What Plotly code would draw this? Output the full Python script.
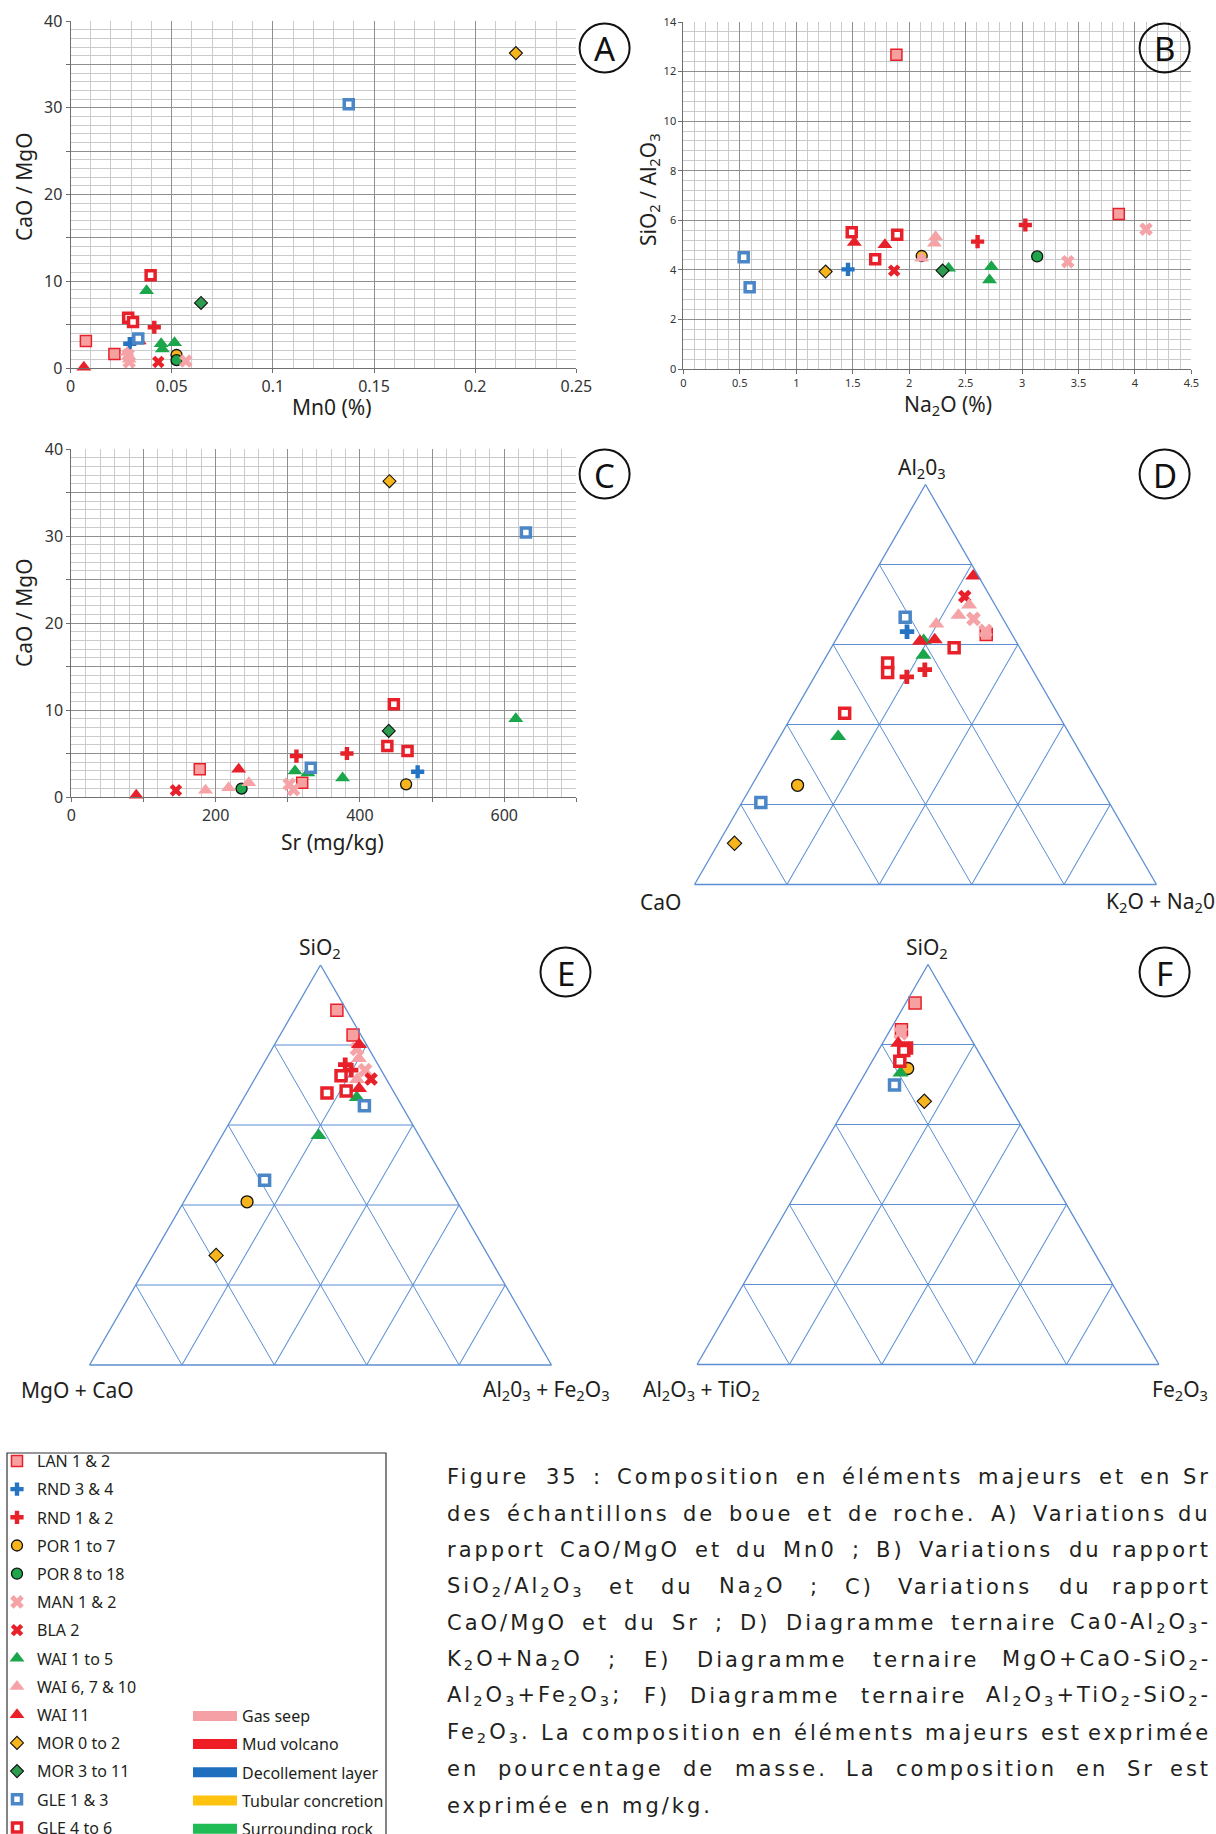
import re
import plotly.graph_objects as go

FIG_W, FIG_H = 1216, 1834

# ---------------------------------------------------------------- groups
GROUPS = ["LAN 1 & 2", "RND 3 & 4", "RND 1 & 2", "POR 1 to 7", "POR 8 to 18",
          "MAN 1 & 2", "BLA 2", "WAI 1 to 5", "WAI 6, 7 & 10", "WAI 11",
          "MOR 0 to 2", "MOR 3 to 11", "GLE 1 & 3", "GLE 4 to 6"]

# ---------------------------------------------------------------- panel A : MnO (%) vs CaO/MgO
A_MnO = {
    "LAN 1 & 2": [0.0076, 0.0217], "RND 3 & 4": [0.0293], "RND 1 & 2": [0.0414],
    "POR 1 to 7": [0.0524], "POR 8 to 18": [0.0524], "MAN 1 & 2": [0.0285, 0.029, 0.057],
    "BLA 2": [0.0434], "WAI 1 to 5": [0.0376, 0.0448, 0.0454, 0.0514],
    "WAI 6, 7 & 10": [0.028, 0.029], "WAI 11": [0.0066, 0.034], "MOR 0 to 2": [0.2201],
    "MOR 3 to 11": [0.0645], "GLE 1 & 3": [0.1375, 0.0335], "GLE 4 to 6": [0.0396, 0.0285, 0.0309],
}
A_CaO_MgO = {
    "LAN 1 & 2": [3.1, 1.6], "RND 3 & 4": [2.8], "RND 1 & 2": [4.7],
    "POR 1 to 7": [1.5], "POR 8 to 18": [0.9], "MAN 1 & 2": [1.5, 0.7, 0.8],
    "BLA 2": [0.7], "WAI 1 to 5": [8.9, 2.8, 2.2, 2.9],
    "WAI 6, 7 & 10": [1.8, 1.0], "WAI 11": [0.1, 3.1], "MOR 0 to 2": [36.3],
    "MOR 3 to 11": [7.5], "GLE 1 & 3": [30.4, 3.4], "GLE 4 to 6": [10.7, 5.8, 5.3],
}

# ---------------------------------------------------------------- panel B : Na2O (%) vs SiO2/Al2O3
B_Na2O = {
    "LAN 1 & 2": [1.887, 3.857], "RND 3 & 4": [1.458], "RND 1 & 2": [2.606, 3.029],
    "POR 1 to 7": [2.111], "POR 8 to 18": [3.134], "MAN 1 & 2": [3.405, 4.098],
    "BLA 2": [1.867], "WAI 1 to 5": [2.349, 2.728, 2.712],
    "WAI 6, 7 & 10": [2.234, 2.224, 2.111], "WAI 11": [1.514, 1.785], "MOR 0 to 2": [1.26],
    "MOR 3 to 11": [2.296], "GLE 1 & 3": [0.534, 0.587], "GLE 4 to 6": [1.491, 1.894, 1.699],
}
B_SiO2_Al2O3 = {
    "LAN 1 & 2": [12.68, 6.25], "RND 3 & 4": [4.02], "RND 1 & 2": [5.14, 5.81],
    "POR 1 to 7": [4.56], "POR 8 to 18": [4.54], "MAN 1 & 2": [4.33, 5.64],
    "BLA 2": [3.97], "WAI 1 to 5": [4.06, 4.13, 3.59],
    "WAI 6, 7 & 10": [5.34, 5.07, 4.47], "WAI 11": [5.10, 5.01], "MOR 0 to 2": [3.93],
    "MOR 3 to 11": [3.97], "GLE 1 & 3": [4.51, 3.30], "GLE 4 to 6": [5.52, 5.42, 4.43],
}

# ---------------------------------------------------------------- panel C : Sr (mg/kg) vs CaO/MgO
C_Sr = {
    "LAN 1 & 2": [178, 320], "RND 3 & 4": [480], "RND 1 & 2": [312, 382],
    "POR 1 to 7": [464], "POR 8 to 18": [236], "MAN 1 & 2": [302, 308],
    "BLA 2": [145], "WAI 1 to 5": [310, 328, 376, 616],
    "WAI 6, 7 & 10": [186, 218, 246], "WAI 11": [90, 232], "MOR 0 to 2": [441],
    "MOR 3 to 11": [440], "GLE 1 & 3": [630, 332], "GLE 4 to 6": [447, 438, 466],
}
C_CaO_MgO = {
    "LAN 1 & 2": [3.2, 1.65], "RND 3 & 4": [2.9], "RND 1 & 2": [4.7, 5.0],
    "POR 1 to 7": [1.46], "POR 8 to 18": [0.96], "MAN 1 & 2": [1.46, 0.84],
    "BLA 2": [0.77], "WAI 1 to 5": [3.0, 2.76, 2.19, 9.0],
    "WAI 6, 7 & 10": [0.77, 1.07, 1.65], "WAI 11": [0.19, 3.18], "MOR 0 to 2": [36.3],
    "MOR 3 to 11": [7.6], "GLE 1 & 3": [30.4, 3.37], "GLE 4 to 6": [10.66, 5.87, 5.29],
}

# ---------------------------------------------------------------- panel D : ternary Al2O3 / CaO / K2O+Na2O (%)
D_Al2O3 = {
    "LAN 1 & 2": [62.5], "RND 3 & 4": [63.2], "RND 1 & 2": [51.9, 53.7],
    "POR 1 to 7": [24.8], "POR 8 to 18": [], "MAN 1 & 2": [66.4, 63.4],
    "BLA 2": [72.0], "WAI 1 to 5": [61.0, 57.3, 37.0],
    "WAI 6, 7 & 10": [69.9, 67.3, 65.1], "WAI 11": [77.1, 60.8, 61.2], "MOR 0 to 2": [10.3],
    "MOR 3 to 11": [], "GLE 1 & 3": [66.8, 20.5], "GLE 4 to 6": [59.2, 55.4, 53.0, 42.8],
}
D_CaO = {
    "LAN 1 & 2": [5.6], "RND 3 & 4": [22.4], "RND 1 & 2": [28.1, 23.3],
    "POR 1 to 7": [65.3], "POR 8 to 18": [], "MAN 1 & 2": [6.4, 5.3],
    "BLA 2": [5.5], "WAI 1 to 5": [19.9, 21.8, 50.4],
    "WAI 6, 7 & 10": [5.6, 9.2, 15.1], "WAI 11": [1.1, 20.8, 17.4], "MOR 0 to 2": [86.2],
    "MOR 3 to 11": [], "GLE 1 & 3": [21.0, 75.4], "GLE 4 to 6": [14.2, 30.5, 31.7, 46.1],
}
D_K2O_Na2O = {
    "LAN 1 & 2": [31.9], "RND 3 & 4": [14.4], "RND 1 & 2": [20.0, 23.0],
    "POR 1 to 7": [9.9], "POR 8 to 18": [], "MAN 1 & 2": [27.2, 31.3],
    "BLA 2": [22.5], "WAI 1 to 5": [19.1, 20.9, 12.6],
    "WAI 6, 7 & 10": [24.5, 23.5, 19.8], "WAI 11": [21.8, 18.4, 21.4], "MOR 0 to 2": [3.5],
    "MOR 3 to 11": [], "GLE 1 & 3": [12.2, 4.1], "GLE 4 to 6": [26.6, 14.1, 15.3, 11.1],
}

# ---------------------------------------------------------------- panel E : ternary SiO2 / MgO+CaO / Al2O3+Fe2O3 (%)
E_SiO2 = {
    "LAN 1 & 2": [88.7, 82.5], "RND 3 & 4": [], "RND 1 & 2": [75.1, 73.7],
    "POR 1 to 7": [40.8], "POR 8 to 18": [], "MAN 1 & 2": [79.0, 73.7],
    "BLA 2": [71.5], "WAI 1 to 5": [66.9, 57.4],
    "WAI 6, 7 & 10": [76.6, 71.4], "WAI 11": [80.1, 69.1], "MOR 0 to 2": [27.4],
    "MOR 3 to 11": [], "GLE 1 & 3": [64.8, 46.2], "GLE 4 to 6": [72.3, 68.0, 68.5],
}
E_MgO_CaO = {
    "LAN 1 & 2": [2.1, 1.7], "RND 3 & 4": [], "RND 1 & 2": [7.1, 6.5],
    "POR 1 to 7": [45.5], "POR 8 to 18": [], "MAN 1 & 2": [2.6, 3.5],
    "BLA 2": [3.3], "WAI 1 to 5": [8.7, 21.7],
    "WAI 6, 7 & 10": [3.4, 6.4], "WAI 11": [1.6, 7.1], "MOR 0 to 2": [58.9],
    "MOR 3 to 11": [], "GLE 1 & 3": [8.1, 39.0], "GLE 4 to 6": [9.4, 14.6, 10.2],
}
E_Al2O3_Fe2O3 = {
    "LAN 1 & 2": [9.2, 15.8], "RND 3 & 4": [], "RND 1 & 2": [17.8, 19.8],
    "POR 1 to 7": [13.7], "POR 8 to 18": [], "MAN 1 & 2": [18.4, 22.8],
    "BLA 2": [25.2], "WAI 1 to 5": [24.4, 20.9],
    "WAI 6, 7 & 10": [20.0, 22.2], "WAI 11": [18.3, 23.8], "MOR 0 to 2": [13.7],
    "MOR 3 to 11": [], "GLE 1 & 3": [27.1, 14.8], "GLE 4 to 6": [18.3, 17.4, 21.3],
}

# ---------------------------------------------------------------- panel F : ternary SiO2 / Al2O3+TiO2 / Fe2O3 (%)
F_SiO2 = {
    "LAN 1 & 2": [90.4, 83.7], "RND 3 & 4": [], "RND 1 & 2": [],
    "POR 1 to 7": [74.0], "POR 8 to 18": [], "MAN 1 & 2": [82.8],
    "BLA 2": [], "WAI 1 to 5": [72.9],
    "WAI 6, 7 & 10": [], "WAI 11": [80.3], "MOR 0 to 2": [65.8],
    "MOR 3 to 11": [], "GLE 1 & 3": [69.9], "GLE 4 to 6": [79.1, 78.5, 75.8],
}
F_Al2O3_TiO2 = {
    "LAN 1 & 2": [7.6, 13.9], "RND 3 & 4": [], "RND 1 & 2": [],
    "POR 1 to 7": [17.4], "POR 8 to 18": [], "MAN 1 & 2": [14.5],
    "BLA 2": [], "WAI 1 to 5": [19.5],
    "WAI 6, 7 & 10": [], "WAI 11": [16.3], "MOR 0 to 2": [17.9],
    "MOR 3 to 11": [], "GLE 1 & 3": [22.3], "GLE 4 to 6": [15.1, 16.0, 18.2],
}
F_Fe2O3 = {
    "LAN 1 & 2": [2.0, 2.4], "RND 3 & 4": [], "RND 1 & 2": [],
    "POR 1 to 7": [8.6], "POR 8 to 18": [], "MAN 1 & 2": [2.7],
    "BLA 2": [], "WAI 1 to 5": [7.6],
    "WAI 6, 7 & 10": [], "WAI 11": [3.4], "MOR 0 to 2": [16.3],
    "MOR 3 to 11": [], "GLE 1 & 3": [7.8], "GLE 4 to 6": [5.8, 5.5, 6.0],
}

# ---------------------------------------------------------------- environment legend
ENV_NAMES = ["Gas seep", "Mud volcano", "Decollement layer", "Tubular concretion", "Surrounding rock"]

# ---------------------------------------------------------------- caption
CAPTION_LINES = [
    "Figure 35 : Composition en éléments majeurs et en Sr",
    "des échantillons de boue et de roche.  A) Variations du",
    "rapport CaO/MgO et du Mn0 ; B) Variations du rapport",
    "SiO<sub>2</sub>/Al<sub>2</sub>O<sub>3</sub> et du Na<sub>2</sub>O ; C) Variations du rapport",
    "CaO/MgO et du Sr ; D) Diagramme ternaire Ca0-Al<sub>2</sub>O<sub>3</sub>-",
    "K<sub>2</sub>O+Na<sub>2</sub>O ; E) Diagramme ternaire MgO+CaO-SiO<sub>2</sub>-",
    "Al<sub>2</sub>O<sub>3</sub>+Fe<sub>2</sub>O<sub>3</sub>; F) Diagramme ternaire Al<sub>2</sub>O<sub>3</sub>+TiO<sub>2</sub>-SiO<sub>2</sub>-",
    "Fe<sub>2</sub>O<sub>3</sub>. La composition en éléments majeurs est exprimée",
    "en pourcentage de masse.  La composition en Sr est",
    "exprimée en mg/kg.",
]

# ================================================================ styles
RED, PINK, GREEN, GOLD = "#e8202a", "#f5a3a7", "#1ba64b", "#f6b51d"
BLUE_C, BLUE_S, TERN = "#2574c4", "#4b86c7", "#5b8ed3"
STYLE = {
    "LAN 1 & 2": dict(symbol="square", color="#f6a0a0", size=11, line=dict(color=RED, width=1.5)),
    "RND 3 & 4": dict(symbol="cross", color=BLUE_C, size=11, line=dict(width=0)),
    "RND 1 & 2": dict(symbol="cross", color=RED, size=11, line=dict(width=0)),
    "POR 1 to 7": dict(symbol="circle", color=GOLD, size=11, line=dict(color="#111", width=1.3)),
    "POR 8 to 18": dict(symbol="circle", color="#1fa64a", size=11, line=dict(color="#111", width=1.3)),
    "MAN 1 & 2": dict(symbol="x", color=PINK, size=12, line=dict(width=0)),
    "BLA 2": dict(symbol="x", color=RED, size=11, line=dict(width=0)),
    "WAI 1 to 5": dict(symbol="triangle-up", color=GREEN, size=13, line=dict(width=0)),
    "WAI 6, 7 & 10": dict(symbol="triangle-up", color=PINK, size=13, line=dict(width=0)),
    "WAI 11": dict(symbol="triangle-up", color=RED, size=13, line=dict(width=0)),
    "MOR 0 to 2": dict(symbol="diamond", color=GOLD, size=10, line=dict(color="#111", width=1.1)),
    "MOR 3 to 11": dict(symbol="diamond", color="#2d9b4f", size=10, line=dict(color="#111", width=1.1)),
    "GLE 1 & 3": dict(symbol="square", color="white", size=9, line=dict(color=BLUE_S, width=3.5)),
    "GLE 4 to 6": dict(symbol="square", color="white", size=9, line=dict(color=RED, width=3.5)),
}
ENV_COLORS = ["#f5a0a4", "#ee1c25", "#1f6fbf", "#ffc20e", "#1fbb55"]

FONT = "Noto Sans"
TXT = "#231f20"


def px(x):
    return x / FIG_W


def py(y):
    return 1 - y / FIG_H


fig = go.Figure()

# ---------------------------------------------------------------- cartesian panels
for xs, ys, xa, ya, legend_on in [(A_MnO, A_CaO_MgO, "x", "y", True),
                                  (B_Na2O, B_SiO2_Al2O3, "x2", "y2", False),
                                  (C_Sr, C_CaO_MgO, "x3", "y3", False)]:
    for g in GROUPS:
        st = STYLE[g]
        fig.add_trace(go.Scatter(
            x=xs[g], y=ys[g], mode="markers", name=g, legendgroup=g, showlegend=legend_on,
            xaxis=xa, yaxis=ya, cliponaxis=False,
            marker=dict(symbol=st["symbol"], color=st["color"], size=st["size"], line=st["line"]),
        ))

# ---------------------------------------------------------------- ternary panels
for aa, bb, cc, sub in [(D_Al2O3, D_CaO, D_K2O_Na2O, "ternary"),
                        (E_SiO2, E_MgO_CaO, E_Al2O3_Fe2O3, "ternary2"),
                        (F_SiO2, F_Al2O3_TiO2, F_Fe2O3, "ternary3")]:
    for g in GROUPS:
        st = STYLE[g]
        fig.add_trace(go.Scatterternary(
            a=aa[g], b=bb[g], c=cc[g], mode="markers", name=g, legendgroup=g, showlegend=False,
            subplot=sub, cliponaxis=False,
            marker=dict(symbol=st["symbol"], color=st["color"], size=st["size"] + 1, line=st["line"]),
        ))

# ---------------------------------------------------------------- environment legend entries
for name, col in zip(ENV_NAMES, ENV_COLORS):
    fig.add_trace(go.Scatter(x=[None], y=[None], mode="lines", name=name, legend="legend2",
                             legendgroup="env_" + name, line=dict(color=col, width=10)))

# ---------------------------------------------------------------- axes
MAJ, MIN, AXL = "#8f8f8f", "#cbcbcb", "#6f6f6f"


def cart_axis(domain, rng, anchor, dtick=None, tickvals=None, ticktext=None, minor=None, fs=16):
    d = dict(domain=domain, range=rng, anchor=anchor, showgrid=True, gridcolor=MAJ, gridwidth=1,
             zeroline=False, showline=True, linecolor=AXL, linewidth=1, ticks="outside",
             ticklen=4, tickcolor=AXL, tickfont=dict(family=FONT, size=fs, color="#333"),
             minor=dict(dtick=minor, tick0=0, showgrid=True, gridcolor=MIN, gridwidth=1, ticks=""),
             fixedrange=True, automargin=False)
    if tickvals is not None:
        d.update(tickmode="array", tickvals=tickvals, ticktext=ticktext)
    else:
        d.update(tick0=0, dtick=dtick)
    return d


yv = [0, 5, 10, 15, 20, 25, 30, 35, 40]
yt = ["0", " ", "10", " ", "20", " ", "30", " ", "40"]
xv_c = [0, 100, 200, 300, 400, 500, 600, 700]
xt_c = ["0", " ", "200", " ", "400", " ", "600", " "]

fig.update_layout(
    xaxis=cart_axis([px(70.5), px(576.4)], [0, 0.25], "y", dtick=0.05, minor=0.01),
    yaxis=cart_axis([py(368), py(21)], [0, 40], "x", tickvals=yv, ticktext=yt, minor=1),
    xaxis2=cart_axis([px(683.4), px(1191.4)], [0, 4.5], "y2", dtick=0.5, minor=0.1, fs=11),
    yaxis2=cart_axis([py(369), py(22)], [0, 14], "x2", dtick=2, minor=0.4, fs=11),
    xaxis3=cart_axis([px(71.3), px(576.4)], [0, 700], "y3", tickvals=xv_c, ticktext=xt_c, minor=20),
    yaxis3=cart_axis([py(797), py(449)], [0, 40], "x3", tickvals=yv, ticktext=yt, minor=1),
)


def tern_axis():
    return dict(showticklabels=False, ticks="", showgrid=True, gridcolor=TERN, gridwidth=1.1,
                showline=True, linecolor=TERN, linewidth=1.3, tickmode="linear", tick0=0,
                dtick=20, min=0, title=dict(text=""))


for key, dx, dy in [("ternary", [px(694.5), px(1156.5)], [py(884.5), py(484.5)]),
                    ("ternary2", [px(89.5), px(551.5)], [py(1365), py(965)]),
                    ("ternary3", [px(697), px(1159)], [py(1364.5), py(964.5)])]:
    fig.update_layout(**{key: dict(domain=dict(x=dx, y=dy), sum=100, bgcolor="rgba(0,0,0,0)",
                                   aaxis=tern_axis(), baxis=tern_axis(), caxis=tern_axis())})

# ---------------------------------------------------------------- annotations
ann = []


def label(text, x, y, size=21, angle=0, xanchor="center", family=FONT, color=TXT):
    ann.append(dict(text=text, x=px(x), y=py(y), xref="paper", yref="paper", showarrow=False,
                    xanchor=xanchor, yanchor="middle", textangle=angle,
                    font=dict(family=family, size=size, color=color)))


# axis titles
label("CaO / MgO", 24, 187, 21, -90)
label("Mn0 (%)", 332, 407, 21)
label("SiO<sub>2</sub> / Al<sub>2</sub>O<sub>3</sub>", 649, 190, 21, -90)
label("Na<sub>2</sub>O (%)", 948, 405, 21)
label("CaO / MgO", 24, 613, 21, -90)
label("Sr (mg/kg)", 332, 842, 21)

# ternary vertex labels
label("Al<sub>2</sub>0<sub>3</sub>", 922, 468)
label("CaO", 660, 902)
label("K<sub>2</sub>O + Na<sub>2</sub>0", 1160, 902)
label("SiO<sub>2</sub>", 320, 948)
label("MgO + CaO", 77, 1390)
label("Al<sub>2</sub>0<sub>3</sub> + Fe<sub>2</sub>O<sub>3</sub>", 546, 1390)
label("SiO<sub>2</sub>", 927, 948)
label("Al<sub>2</sub>O<sub>3</sub> + TiO<sub>2</sub>", 701, 1390)
label("Fe<sub>2</sub>O<sub>3</sub>", 1180, 1390)

# panel letters in circles
shapes = []
for letter, cx, cy in [("A", 604.6, 48), ("B", 1164.6, 48), ("C", 604.6, 474),
                       ("D", 1164.6, 474), ("E", 565.5, 972), ("F", 1164.6, 972)]:
    shapes.append(dict(type="circle", xref="paper", yref="paper", x0=px(cx - 25), x1=px(cx + 25),
                       y0=py(cy + 24.5), y1=py(cy - 24.5), line=dict(color="#111", width=2)))
    label(letter, cx, cy + 1, 33, color="#111")

# legend frame
shapes.append(dict(type="rect", xref="paper", yref="paper", x0=px(7), x1=px(386),
                   y0=py(1860), y1=py(1453), line=dict(color="#333", width=1.2)))

# caption (justified word placement, DejaVu Sans metrics in em)
DJV = dict(zip("ABCDEFGHIJKLMNOPQRSTUVWXYZ",
               [.684, .686, .698, .770, .632, .575, .775, .752, .295, .295, .656, .557, .863,
                .748, .787, .603, .787, .695, .635, .611, .732, .684, .989, .685, .611, .685]))
DJV.update(zip("abcdefghijklmnopqrstuvwxyz",
               [.613, .635, .550, .635, .615, .352, .635, .634, .278, .278, .579, .278, .974,
                .634, .612, .635, .635, .411, .521, .392, .634, .592, .818, .592, .592, .525]))
DJV.update({"é": .615, " ": .318, ".": .318, ",": .318, ":": .337, ";": .337, "(": .390,
            ")": .390, "/": .337, "-": .361, "+": .838, "&": .780, "%": .950})
for d in "0123456789":
    DJV[d] = .636

CAP_FONT, CAP_FS, CAP_LS = "DejaVu Sans", 21, 3.0
CAP_L, CAP_R, CAP_Y0, CAP_DY = 445, 1213, 1477, 36.5


def est_w(word):
    tot, n = 0.0, 0
    for part in re.split(r"(<sub>.*?</sub>)", word):
        if part.startswith("<sub>"):
            txt, sc = part[5:-6], 0.7
        else:
            txt, sc = part, 1.0
        tot += sum(DJV.get(c, .6) for c in txt) * sc * CAP_FS
        n += len(txt)
    return tot + n * CAP_LS


for i, line in enumerate(CAPTION_LINES):
    words = [w for w in line.split(" ") if w]
    widths = [est_w(w) for w in words]
    justified = i < len(CAPTION_LINES) - 1
    if justified and len(words) > 1:
        gap = (CAP_R - CAP_L - sum(widths)) / (len(words) - 1)
    else:
        gap = DJV[" "] * CAP_FS + CAP_LS
    x = CAP_L
    for j, (w, wd) in enumerate(zip(words, widths)):
        last = justified and j == len(words) - 1
        ann.append(dict(text="<span style='letter-spacing:%.1fpx'>%s</span>" % (CAP_LS, w),
                        x=px(CAP_R if last else x), y=py(CAP_Y0 + i * CAP_DY),
                        xref="paper", yref="paper", showarrow=False,
                        xanchor="right" if last else "left", yanchor="middle",
                        font=dict(family=CAP_FONT, size=CAP_FS, color=TXT)))
        x += wd + gap

fig.update_layout(
    width=FIG_W, height=FIG_H, margin=dict(l=0, r=0, t=0, b=0, autoexpand=False),
    paper_bgcolor="white", plot_bgcolor="white",
    annotations=ann, shapes=shapes,
    showlegend=True,
    legend=dict(x=px(-3), y=py(1444), xanchor="left", yanchor="top", bgcolor="rgba(0,0,0,0)",
                borderwidth=0, font=dict(family=FONT, size=16, color=TXT), tracegroupgap=4.4,
                itemwidth=30, itemclick=False, itemdoubleclick=False),
    legend2=dict(x=px(188), y=py(1699), xanchor="left", yanchor="top", bgcolor="rgba(0,0,0,0)",
                 borderwidth=0, font=dict(family=FONT, size=16, color=TXT), tracegroupgap=4.4,
                 itemwidth=44, itemclick=False, itemdoubleclick=False),
)

fig.write_html("out.html", config={"displayModeBar": False},
               post_script="document.body.style.margin='0';document.body.style.padding='0';")
